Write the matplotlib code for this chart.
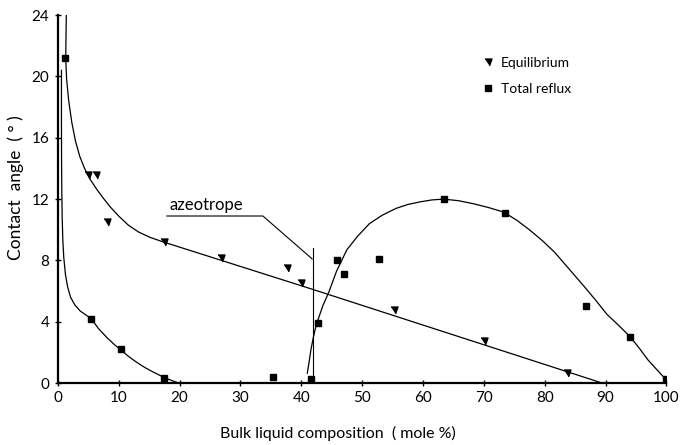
import matplotlib
matplotlib.use("Agg")
import matplotlib.pyplot as plt

# measured points
eq_x = [5.0, 6.3, 8.1, 17.4, 26.8, 37.7, 40.0, 55.3, 70.1, 83.7]
eq_y = [13.6, 13.6, 10.5, 9.2, 8.15, 7.5, 6.5, 4.8, 2.75, 0.65]

tr_x = [1.2, 5.5, 10.4, 17.5, 35.3, 41.6, 42.8, 45.9, 47.0, 52.7, 63.4, 73.5, 86.8, 94.1, 100.0]
tr_y = [21.2, 4.2, 2.2, 0.35, 0.4, 0.3, 3.9, 8.0, 7.1, 8.1, 12.0, 11.1, 5.0, 3.0, 0.25]

# hand drawn curves
eqc_x = [1.4, 1.3, 1.45, 1.8, 2.3, 2.9, 3.6, 4.4, 5.3, 6.3, 7.4, 8.6, 10.0, 11.6, 13.3, 15.2, 17.4, 42.0, 89.5]
eqc_y = [24.0, 21.2, 19.8, 18.4, 17.0, 15.8, 14.8, 14.0, 13.3, 12.7, 12.1, 11.5, 10.9, 10.3, 9.85, 9.5, 9.2, 6.1, 0.0]

trl_x = [0.6, 0.6, 0.62, 0.66, 0.72, 0.82, 0.98, 1.25, 1.6, 2.1, 2.8, 3.7, 4.6, 5.5, 6.7, 8.0, 9.2, 10.4, 11.7, 13.0, 14.3, 15.6, 16.8, 17.9, 19.0, 20.0]
trl_y = [20.4, 17.0, 14.5, 12.5, 10.8, 9.4, 8.2, 7.1, 6.3, 5.6, 5.1, 4.7, 4.45, 4.2, 3.55, 3.0, 2.55, 2.15, 1.72, 1.35, 1.02, 0.74, 0.5, 0.3, 0.13, 0.0]

trr_x = [41.0, 41.3, 41.6, 42.0, 42.4, 42.9, 43.6, 44.5, 45.8, 47.5, 49.3, 51.2, 53.3, 55.6, 57.5, 59.5, 61.5, 63.4, 65.8, 68.3, 70.8, 73.3, 75.5, 77.5, 79.6, 81.6, 84.0, 86.5, 88.4, 90.2, 92.2, 94.1, 95.6, 97.0, 98.5, 100.0]
trr_y = [0.65, 1.4, 2.2, 3.0, 3.7, 4.3, 5.1, 5.9, 7.3, 8.7, 9.6, 10.4, 10.95, 11.4, 11.65, 11.82, 11.95, 12.0, 11.9, 11.7, 11.45, 11.15, 10.6, 10.0, 9.3, 8.55, 7.45, 6.3, 5.4, 4.5, 3.75, 3.0, 2.25, 1.5, 0.85, 0.2]

# azeotrope pointer
az_x = [17.9, 33.7, 41.8]
az_y = [10.9, 10.9, 8.1]
az_line_x = [42.0, 42.0]
az_line_y = [8.8, 0.0]

x_ticks = list(range(0, 101, 10))
y_ticks = list(range(0, 25, 4))

plt.rcParams['font.family'] = ['Lato', 'DejaVu Sans']

fig = plt.figure(figsize=(6.8, 4.45), dpi=100)
ax = fig.add_axes([0.085, 0.139, 0.895, 0.827])

tri = [(-1, 1), (1, 1), (0.3, -1)]

ax.plot(eqc_x, eqc_y, color='black', lw=0.9)
ax.plot(trl_x, trl_y, color='black', lw=0.9)
ax.plot(trr_x, trr_y, color='black', lw=0.9)
ax.plot(az_x, az_y, color='black', lw=0.8)
ax.plot(az_line_x, az_line_y, color='black', lw=0.8)

ax.plot(eq_x, eq_y, ls='none', marker=tri, ms=5, color='black', label='Equilibrium')
ax.plot(tr_x, tr_y, ls='none', marker='s', ms=5, color='black', label='Total reflux')

ax.text(18.3, 11.3, 'azeotrope', fontsize=12)

ax.set_xlim(0, 100)
ax.set_ylim(0, 24)
ax.set_xticks(x_ticks)
ax.set_yticks(y_ticks)
ax.tick_params(direction='inout', length=5, width=1, labelsize=11)
ax.spines['top'].set_visible(False)
ax.spines['right'].set_visible(False)
ax.spines['left'].set_linewidth(1.6)
ax.spines['bottom'].set_linewidth(1.6)

ax.set_xlabel('Bulk liquid composition  ( mole %)', fontsize=11.5)
ax.set_ylabel('Contact  angle  ( ° )', fontsize=12.5)
ax.yaxis.set_label_coords(-0.055, 0.53)
ax.xaxis.set_label_coords(0.46, -0.115)

ax.legend(loc='upper left', bbox_to_anchor=(0.675, 0.92), frameon=False,
          handlelength=1, handletextpad=0.4, labelspacing=1.0, fontsize=10)

fig.savefig('out.png', dpi=100)
